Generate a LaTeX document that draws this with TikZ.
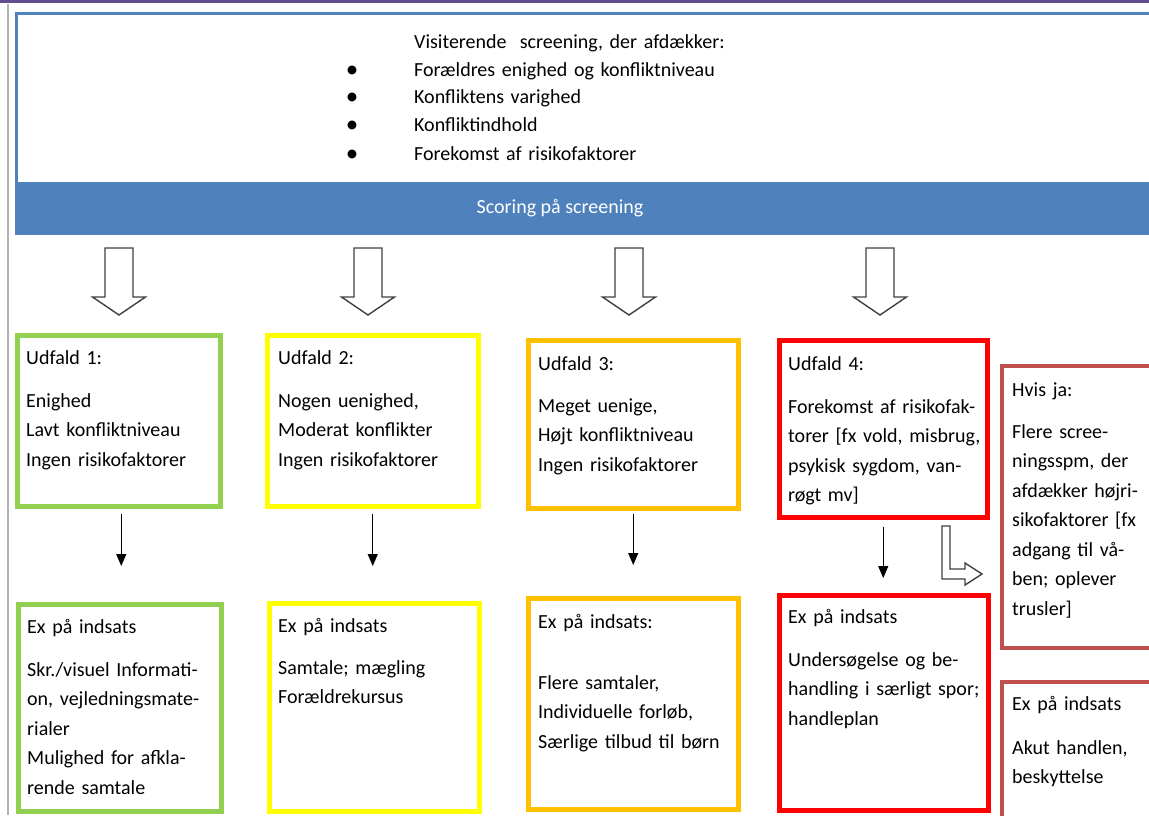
\documentclass[tikz,border=0pt]{standalone}
\usepackage{fontspec}
\setmainfont{Carlito}
\usetikzlibrary{positioning,calc,arrows.meta}
\definecolor{udfgreen}{HTML}{92D050}
\definecolor{udfyellow}{HTML}{FFFF00}
\definecolor{udforange}{HTML}{FFC000}
\definecolor{udfred}{HTML}{FF0000}
\definecolor{udfdark}{HTML}{C0504D}
\definecolor{scrblue}{HTML}{4F81BD}
\definecolor{topline}{HTML}{5F4F8C}
\newcommand{\punkt}{\leavevmode\llap{\raisebox{-1pt}{\fontsize{25}{25}\selectfont\textbullet}\hspace{56pt}}}
\tikzset{
	udfald/.style={draw=#1, line width=4.5pt, anchor=north west, inner sep=0pt},
	boxtext/.style={anchor=base west, align=left, inner sep=0pt, text width=230pt,
		font=\fontsize{20}{29.5}\selectfont},
	hollow/.style={draw=black!75, line width=1.4pt, fill=white, line join=miter},
	pil/.style={-{Triangle[width=10pt,length=12pt]}, line width=1.2pt}
}

\begin{document}
\begin{tikzpicture}[x=1pt,y=-1pt]
	\def\shaft{14};
	\def\head{26.5};
\useasboundingbox (0,0) rectangle (1149,815);
\clip (0,0) rectangle (1149,815);

%Rammer
\fill[topline] (0,0) rectangle (1149,3);
\draw[black!30, line width=2pt] (8,4) -- (8,815);

%Screening
\draw[scrblue, line width=3pt] (16.5,13.5) rectangle (1170,233);
\node[fill=scrblue, anchor=north west, inner sep=0pt, minimum width=1160pt, minimum height=52pt] (band) at (15,182) {};
\node[white, font=\fontsize{20}{24}\selectfont] (scoring) at (560,208) {Scoring på screening};
\node[boxtext, text width=400pt] (visit) at (414,48.5) {\fontsize{20}{27.5}\selectfont
	Visiterende~ screening, der afdækker:\\
	\punkt Forældres enighed og konfliktniveau\\
	\punkt Konfliktens varighed\\
	\punkt Konfliktindhold\\
	\punkt Forekomst af risikofaktorer};

%Pile fra screening
\foreach \x in {119,368,629,880} {
	\draw[hollow] (\x-\shaft,248) -- (\x+\shaft,248) -- (\x+\shaft,297) -- (\x+\head,297)
		-- (\x,315) -- (\x-\head,297) -- (\x-\shaft,297) -- cycle;
}

%Udfald
\node[udfald=udfgreen, minimum width=203pt, minimum height=171pt] (u1) at (15,333) {};
\node[udfald=udfyellow, minimum width=211pt, minimum height=171pt] (u2) at (265,333) {};
\node[udfald=udforange, minimum width=210pt, minimum height=168pt] (u3) at (526,338) {};
\node[udfald=udfred, minimum width=208pt, minimum height=177pt] (u4) at (777,338) {};
\node[udfald=udfdark, line width=4pt, minimum width=156pt, minimum height=282pt] (hvis) at (1000,364) {};

\node[boxtext] (u1t) at ([shift={(11,31)}]u1.north west) {Udfald 1:\\[13.5pt]
	Enighed\\ Lavt konfliktniveau\\ Ingen risikofaktorer};
\node[boxtext] (u2t) at ([shift={(13,31)}]u2.north west) {Udfald 2:\\[13.5pt]
	Nogen uenighed,\\ Moderat konflikter\\ Ingen risikofaktorer};
\node[boxtext] (u3t) at ([shift={(12,32)}]u3.north west) {Udfald 3:\\[12.5pt]
	Meget uenige,\\ Højt konfliktniveau\\ Ingen risikofaktorer};
\node[boxtext] (u4t) at ([shift={(11,32)}]u4.north west) {Udfald 4:\\[13.5pt]
	Forekomst af risikofak-\\ torer [fx vold, misbrug,\\ psykisk sygdom, van-\\ røgt mv]};
\node[boxtext] (hvist) at ([shift={(12,32)}]hvis.north west) {Hvis ja:\\[12.5pt]
	Flere scree-\\ ningsspm, der\\ afdækker højri-\\ sikofaktorer [fx\\ adgang til vå-\\ ben; oplever\\ trusler]};

%Indsats
\node[udfald=udfgreen, minimum width=203pt, minimum height=207pt] (e1) at (16,602) {};
\node[udfald=udfyellow, minimum width=210pt, minimum height=208pt] (e2) at (267,601) {};
\node[udfald=udforange, minimum width=210pt, minimum height=211pt] (e3) at (526,596) {};
\node[udfald=udfred, minimum width=209pt, minimum height=215pt] (e4) at (777,593) {};
\node[udfald=udfdark, line width=4pt, minimum width=156pt, minimum height=146pt] (akut) at (1000,680) {};

\node[boxtext] (e1t) at ([shift={(11,31)}]e1.north west) {Ex på indsats\\[13.5pt]
	Skr./visuel Informati-\\ on, vejledningsmate-\\ rialer\\ Mulighed for afkla-\\ rende samtale};
\node[boxtext] (e2t) at ([shift={(11,31)}]e2.north west) {Ex på indsats\\[12.5pt]
	Samtale; mægling\\ Forældrekursus};
\node[boxtext] (e3t) at ([shift={(12,32)}]e3.north west) {Ex på indsats:\\[31.5pt]
	Flere samtaler,\\ Individuelle forløb,\\ Særlige tilbud til børn};
\node[boxtext] (e4t) at ([shift={(11,30)}]e4.north west) {Ex på indsats\\[13.5pt]
	Undersøgelse og be-\\ handling i særligt spor;\\ handleplan};
\node[boxtext] (akutt) at ([shift={(12,30)}]akut.north west) {Ex på indsats\\[14.5pt]
	Akut handlen,\\ beskyttelse};

%Pile ned
\draw[pil, shorten <=5pt, shorten >=36pt] ([xshift=2.5pt]u1.south) -- ([xshift=2.5pt]u1.south |- e1.north);
\draw[pil, shorten <=5pt, shorten >=35pt] (u2.south) -- (u2.south |- e2.north);
\draw[pil, shorten <=3pt, shorten >=31pt] (u3.south) -- (u3.south |- e3.north);
\draw[pil, shorten <=7pt, shorten >=15pt] (u4.south) -- (u4.south |- e4.north);

%Knaekket pil mod hvis ja
\draw[hollow] (942,526) -- (950,526) -- (950,569) -- (965,569) -- (965,563) -- (982,574)
	-- (965,585) -- (965,579) -- (942,579) -- cycle;

\end{tikzpicture}
\end{document}
